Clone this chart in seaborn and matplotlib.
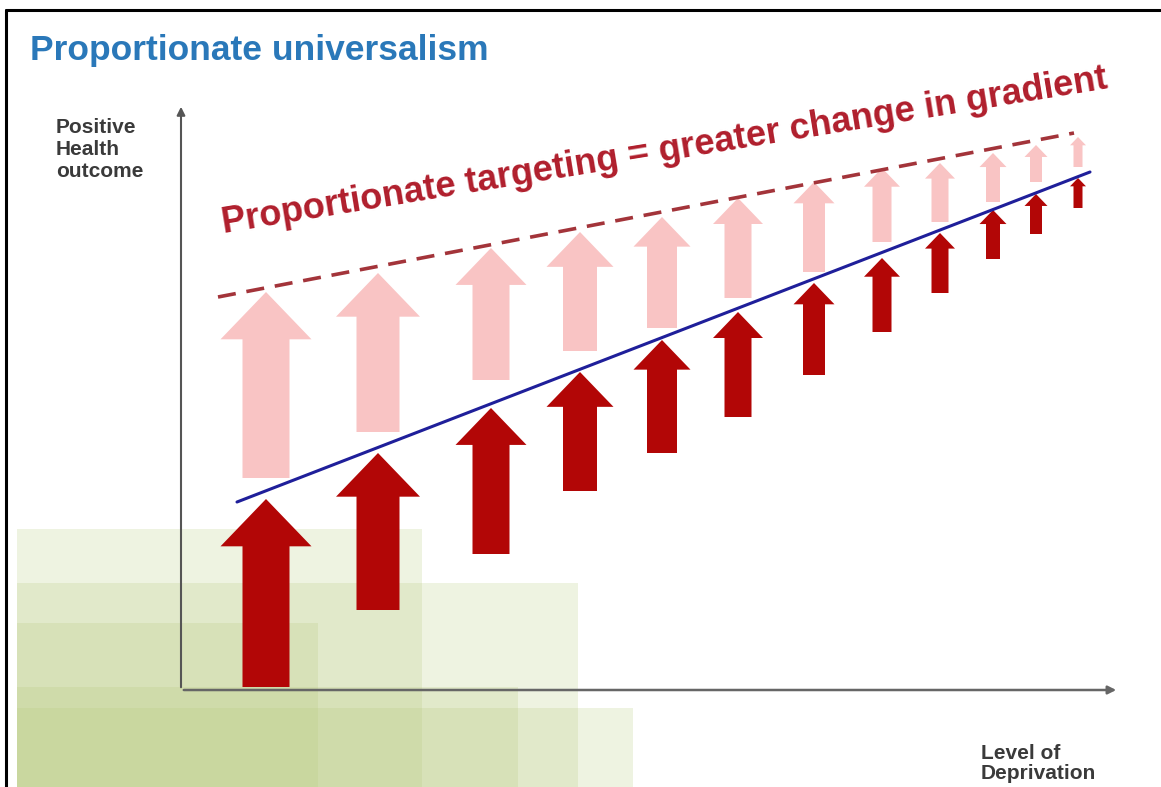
import seaborn as sns
import matplotlib.pyplot as plt
import pandas as pd
from matplotlib.patches import Rectangle

sns.set_style("white")
plt.rcParams['font.family'] = ['Liberation Sans', 'DejaVu Sans']

# Diagram is laid out in a pixel-like unit space (x right, y down)
# Arrow positions along "Level of Deprivation"
arrow_x = [266, 378, 491, 580, 662, 738, 814, 882, 940, 993, 1036, 1078]
dark_top = [499, 453, 408, 372, 340, 312, 283, 258, 233, 210, 194, 178]
dark_bottom = [687, 610, 554, 491, 453, 417, 375, 332, 293, 259, 234, 208]
pink_top = [292, 273, 248, 232, 217, 198, 182, 168, 163, 153, 145, 137]
pink_bottom = [478, 432, 380, 351, 328, 298, 272, 242, 222, 202, 182, 167]
head_w = [91, 84, 71, 67, 57, 50, 41, 36, 30, 27, 23, 16]
shaft_w = [47, 43, 37, 34, 30, 27, 22, 19, 17, 14, 12, 9]

# gradient lines (start / end)
gradient_x = [237, 1090]
gradient_y = [502, 172]
target_x = [218, 1074]
target_y = [297, 133]

# green background blocks
green_right = [422, 578, 318, 518, 633]
green_top = [529, 583, 623, 687, 708]

title = "Proportionate universalism"
banner = "Proportionate targeting = greater change in gradient"
ylabel = "Positive\nHealth\noutcome"
xlabel = "Level of\nDeprivation"

fig = plt.figure(figsize=(11.61, 7.87), dpi=100)
ax = fig.add_axes([0, 0, 1, 1])

# green shaded blocks
for r, t in zip(green_right, green_top):
    ax.add_patch(Rectangle((17, t), r - 17, 787 - t, facecolor='#b5c97a',
                           alpha=0.22, edgecolor='none', zorder=1))

# frame
ax.plot([6, 6], [10, 787], color='black', lw=2.2, zorder=6)
ax.plot([6, 1160], [10, 10], color='black', lw=2.2, zorder=6)

# axes arrows
ax.annotate('', xy=(181, 104), xytext=(181, 690),
            arrowprops=dict(arrowstyle='-|>', color='#555555', lw=1.5,
                            mutation_scale=12), zorder=3)
ax.annotate('', xy=(1119, 690), xytext=(181, 690),
            arrowprops=dict(arrowstyle='-|>', color='#666666', lw=1.8,
                            mutation_scale=12), zorder=3)

# arrows: pale = proportionate extra, dark = universal
for x, dt, db, pt, pb, hw, sw in zip(arrow_x, dark_top, dark_bottom,
                                     pink_top, pink_bottom, head_w, shaft_w):
    ax.arrow(x, pb, 0, pt - pb, width=sw, head_width=hw, head_length=0.52 * hw,
             length_includes_head=True, facecolor='#f9c4c4', edgecolor='none', zorder=2)
    ax.arrow(x, db, 0, dt - db, width=sw, head_width=hw, head_length=0.52 * hw,
             length_includes_head=True, facecolor='#b20606', edgecolor='none', zorder=4)

# lines
grad = pd.DataFrame({'x': gradient_x, 'y': gradient_y})
targ = pd.DataFrame({'x': target_x, 'y': target_y})
sns.lineplot(data=grad, x='x', y='y', color='#1f1f9a', lw=2.2, ax=ax, zorder=5)
sns.lineplot(data=targ, x='x', y='y', color='#a3343a', lw=2.6, ax=ax, zorder=5,
             linestyle=(0, (5, 3)))
ax.set_xlim(0, 1161)
ax.set_ylim(787, 0)
ax.axis('off')

# texts
ax.text(30, 60, title, fontsize=25.5, fontweight='bold', color='#2a78b9',
        ha='left', va='baseline')
ax.text(224, 233, banner, fontsize=26, fontweight='bold', color='#b01e2c',
        rotation=9.3, rotation_mode='anchor', ha='left', va='baseline', zorder=6)
ax.text(56, 118, ylabel, fontsize=15, fontweight='bold', color='#3a3a3a',
        ha='left', va='top', linespacing=1.2)
ax.text(981, 744, xlabel, fontsize=15, fontweight='bold', color='#3a3a3a',
        ha='left', va='top', linespacing=1.08)

fig.savefig('out.png', dpi=100)
